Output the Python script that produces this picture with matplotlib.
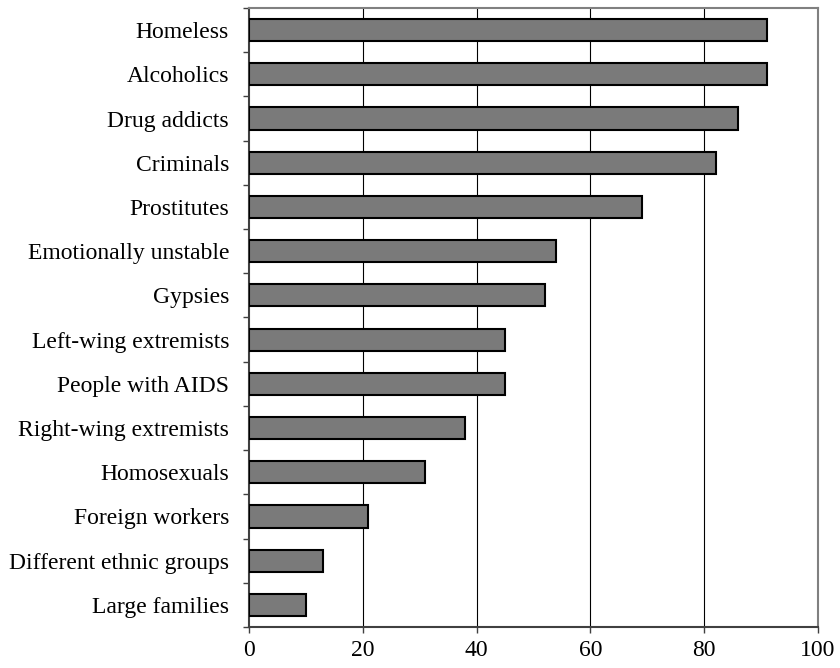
import matplotlib
matplotlib.use("Agg")
import matplotlib.pyplot as plt
import numpy as np

categories = ["Homeless", "Alcoholics", "Drug addicts", "Criminals", "Prostitutes",
              "Emotionally unstable", "Gypsies", "Left-wing extremists", "People with AIDS",
              "Right-wing extremists", "Homosexuals", "Foreign workers",
              "Different ethnic groups", "Large families"]
values = [91, 91, 86, 82, 69, 54, 52, 45, 45, 38, 31, 21, 13, 10]
xticks = [0, 20, 40, 60, 80, 100]

plt.rcParams['font.family'] = ['Liberation Serif', 'DejaVu Serif']

fig = plt.figure(figsize=(8.4, 6.68), dpi=100)
ax = fig.add_axes([249/840, 1-627/668, (818-249)/840, (627-8)/668])

n = len(categories)
y = np.arange(n)[::-1]
ax.barh(y, values, height=0.5, color='#7a7a7a', edgecolor='black', linewidth=1.5, zorder=3)

ax.set_xlim(0, 100)
ax.set_ylim(-0.5, n - 0.5)
ax.set_xticks(xticks)
ax.set_xticklabels([str(t) for t in xticks], fontsize=17)
ax.set_yticks(y)
ax.set_yticklabels(categories, fontsize=17)
ax.tick_params(axis='y', which='major', length=0, pad=14.4)
ax.set_yticks(np.arange(n + 1) - 0.5, minor=True)
ax.tick_params(axis='y', which='minor', length=4.5, width=1, color='#404040', direction='out')
ax.tick_params(axis='x', which='major', length=4.5, width=1, color='#404040', direction='out', pad=5)

for xv in xticks[1:-1]:
    ax.axvline(xv, color='black', linewidth=0.8, zorder=1)

ax.spines['top'].set_color('#808080')
ax.spines['right'].set_color('#808080')
ax.spines['left'].set_color('#404040')
ax.spines['bottom'].set_color('#404040')
for s in ax.spines.values():
    s.set_linewidth(1.5)

fig.savefig('out.png', dpi=100)
